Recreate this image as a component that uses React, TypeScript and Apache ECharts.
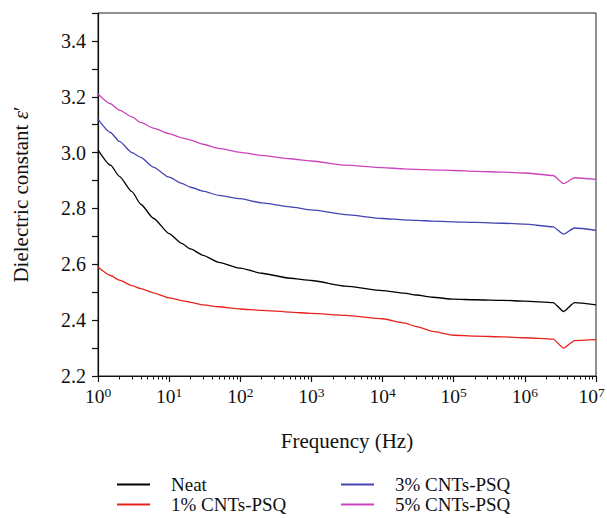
import React, { useEffect, useRef } from "react";
import * as echarts from "echarts";

const freqs = [1, 1.5, 2, 3, 4, 6, 10, 15, 20, 30, 50, 100, 200, 500, 1000, 3000, 1e4, 2e4, 3e4, 5e4, 1e5, 2e5, 5e5, 1e6, 2.5e6, 3.5e6, 5e6, 1e7];

const neat = [3.01, 2.955, 2.915, 2.86, 2.815, 2.765, 2.71, 2.675, 2.655, 2.632, 2.607, 2.586, 2.568, 2.55, 2.542, 2.522, 2.506, 2.497, 2.49, 2.482, 2.475, 2.473, 2.471, 2.468, 2.463, 2.431, 2.463, 2.455];
const cnt1 = [2.59, 2.56, 2.543, 2.524, 2.513, 2.498, 2.48, 2.47, 2.464, 2.455, 2.448, 2.44, 2.435, 2.429, 2.424, 2.417, 2.405, 2.39, 2.377, 2.36, 2.346, 2.343, 2.34, 2.337, 2.332, 2.3, 2.327, 2.33];
const cnt3 = [3.12, 3.072, 3.04, 3.0, 2.983, 2.948, 2.912, 2.89, 2.876, 2.862, 2.847, 2.835, 2.82, 2.806, 2.795, 2.778, 2.764, 2.759, 2.757, 2.755, 2.752, 2.75, 2.747, 2.744, 2.734, 2.708, 2.73, 2.722];
const cnt5 = [3.21, 3.175, 3.152, 3.128, 3.108, 3.088, 3.068, 3.053, 3.045, 3.03, 3.015, 3.001, 2.99, 2.978, 2.97, 2.955, 2.946, 2.942, 2.94, 2.938, 2.936, 2.933, 2.93, 2.927, 2.918, 2.889, 2.91, 2.904];

const seriesNames = ["Neat", "1% CNTs-PSQ", "3% CNTs-PSQ", "5% CNTs-PSQ"];
const seriesValues = [neat, cnt1, cnt3, cnt5];
const seriesColors = ["#000000", "#e8231c", "#4346b2", "#cc44bb"];

const yTickLabels = ["2.2", "2.4", "2.6", "2.8", "3.0", "3.2", "3.4"];
const xMajorTicks = [1, 10, 100, 1000, 1e4, 1e5, 1e6, 1e7];
const xMinorTicks: number[] = [];
for (let d = 0; d < 7; d++) {
  for (let m = 2; m <= 9; m++) xMinorTicks.push(m * Math.pow(10, d));
}

const FONT = "Liberation Serif";

export default function App() {
  const ref = useRef<HTMLDivElement>(null);
  useEffect(() => {
    if (!ref.current) return;
    const chart = echarts.init(ref.current, null, { renderer: "svg" });
    const legendText = { fontFamily: FONT, fontSize: 19, color: "#111", padding: [0, 0, 0, 16] };
    const option: any = {
      animation: false,
      backgroundColor: "#ffffff",
      textStyle: { fontFamily: FONT },
      grid: {
        left: 98,
        right: 11,
        top: 13,
        bottom: 142,
        outerBoundsMode: "none",
        containLabel: false,
        show: true,
        borderColor: "#222",
        borderWidth: 1,
        backgroundColor: "transparent",
      },
      legend: [
        {
          orient: "vertical",
          left: 112,
          top: 470,
          height: 80,
          itemWidth: 33,
          itemHeight: 2,
          itemGap: 1,
          icon: "rect",
          data: [seriesNames[0], seriesNames[1]],
          textStyle: legendText,
        },
        {
          orient: "vertical",
          left: 336,
          top: 470,
          height: 80,
          itemWidth: 33,
          itemHeight: 2,
          itemGap: 1,
          icon: "rect",
          data: [seriesNames[2], seriesNames[3]],
          textStyle: legendText,
        },
      ],
      xAxis: [
        {
          type: "log",
          logBase: 10,
          min: 1,
          max: 1e7,
          name: "Frequency (Hz)",
          nameLocation: "middle",
          nameGap: 54,
          nameTextStyle: { fontFamily: FONT, fontSize: 21, color: "#111" },
          axisLine: { show: true, lineStyle: { color: "#111", width: 1.2 } },
          axisTick: { show: true, inside: false, length: 6, customValues: xMajorTicks, lineStyle: { color: "#111", width: 1.2 } },
          axisLabel: {
            show: true,
            customValues: xMajorTicks,
            margin: 9,
            color: "#111",
            formatter: (v: number) => {
              const e = Math.round(Math.log10(v));
              return e === 7 ? `{b|10}{e|${e}}` : `{b|10}{s|${e}}`;
            },
            rich: {
              b: { fontFamily: FONT, fontSize: 19.5, color: "#111" },
              s: { fontFamily: FONT, fontSize: 13.5, color: "#111", padding: [0, 0, 9, 0] },
              e: { fontFamily: FONT, fontSize: 13.5, color: "#111", padding: [0, 9, 9, 0] },
            },
          },
          splitLine: { show: false },
          minorTick: { show: false },
        },
        {
          type: "log",
          logBase: 10,
          min: 1,
          max: 1e7,
          position: "bottom",
          axisLine: { show: false },
          axisTick: { show: true, inside: false, length: 3.5, customValues: xMinorTicks, lineStyle: { color: "#111", width: 1 } },
          axisLabel: { show: false },
          splitLine: { show: false },
        },
      ],
      yAxis: {
        type: "value",
        min: 2.2,
        max: 3.5,
        interval: 0.2,
        name: "Dielectric constant {i|ε}′",
        nameLocation: "middle",
        nameRotate: 90,
        nameGap: 67,
        nameTextStyle: {
          fontFamily: FONT,
          fontSize: 21,
          color: "#111",
          rich: { i: { fontFamily: FONT, fontSize: 21, fontStyle: "italic", color: "#111" } },
        },
        axisLine: { show: true, lineStyle: { color: "#111", width: 1.2 } },
        axisTick: { show: true, inside: false, length: 6, lineStyle: { color: "#111", width: 1.2 } },
        minorTick: { show: true, splitNumber: 2, length: 6, lineStyle: { color: "#111", width: 1.2 } },
        axisLabel: {
          margin: 12,
          color: "#111",
          fontFamily: FONT,
          fontSize: 20,
          showMaxLabel: false,
          formatter: (v: number) => {
            const s = v.toFixed(1);
            return yTickLabels.indexOf(s) >= 0 ? s : "";
          },
        },
        splitLine: { show: false },
        minorSplitLine: { show: false },
      },
      series: seriesNames.map((name, i) => ({
        name,
        type: "line",
        xAxisIndex: 0,
        data: freqs.map((f, j) => [f, seriesValues[i][j]]),
        showSymbol: false,
        symbol: "none",
        smooth: 0.2,
        smoothMonotone: "x",
        lineStyle: { color: seriesColors[i], width: 1.3 },
        itemStyle: { color: seriesColors[i] },
      })),
    };
    chart.setOption(option);
    return () => chart.dispose();
  }, []);
  return <div ref={ref} style={{ position: "absolute", left: 0, top: 0, width: 607, height: 518 }} />;
}
